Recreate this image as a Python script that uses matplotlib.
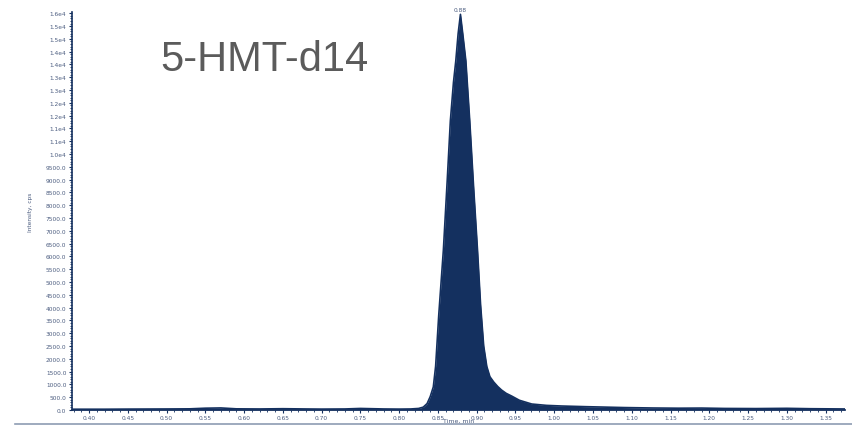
import matplotlib.pyplot as plt
from matplotlib.ticker import MultipleLocator, FixedLocator
from matplotlib.lines import Line2D

# chromatogram (time in min, intensity in cps)
time_min = [0.378, 0.42, 0.45, 0.50, 0.53, 0.55, 0.57, 0.59, 0.62, 0.65, 0.68,
            0.70, 0.73, 0.75, 0.78, 0.80, 0.815, 0.825, 0.831, 0.836, 0.840,
            0.844, 0.847, 0.851, 0.857, 0.862, 0.866, 0.870, 0.873, 0.876,
            0.879, 0.882, 0.886, 0.891, 0.896, 0.901, 0.905, 0.909, 0.913,
            0.917, 0.922, 0.927, 0.932, 0.938, 0.945, 0.955, 0.971, 0.99,
            1.01, 1.04, 1.062, 1.09, 1.127, 1.16, 1.19, 1.22, 1.26, 1.30,
            1.33, 1.375]
intensity = [30, 30, 35, 40, 45, 70, 80, 45, 40, 50, 40,
             35, 40, 60, 40, 35, 40, 60, 110, 250, 520,
             900, 1710, 3700, 6255, 9000, 11300, 12800, 13640, 14700,
             15460, 14700, 13640, 11300, 8700, 6255, 4100, 2500, 1700,
             1300, 1090, 920, 780, 650, 545, 380, 233, 180,
             155, 130, 115, 95, 78, 70, 75, 60, 55, 65,
             50, 40]

ytick_vals = list(range(0, 16000, 500))
ytick_text = ["%.1f" % v for v in ytick_vals[:20]] + [
    "1.0e4", "1.1e4", "1.1e4", "1.2e4", "1.2e4", "1.3e4",
    "1.3e4", "1.4e4", "1.4e4", "1.5e4", "1.5e4", "1.6e4"]
xtick_vals = [0.40 + 0.05 * i for i in range(20)]
xtick_text = ["%.2f" % v for v in xtick_vals]

navy = "#14305f"
tick_col = "#4c5d80"

fig = plt.figure(figsize=(8.52, 4.27), dpi=100)
ax = fig.add_axes([0.0845, 0.0375, 0.9073, 0.932])

ax.fill_between(time_min, intensity, 0, color=navy, lw=0)
ax.plot(time_min, intensity, color=navy, lw=1.2)

ax.set_xlim(0.378, 1.375)
ax.set_ylim(0, 15550)

ax.yaxis.set_major_locator(FixedLocator(ytick_vals))
ax.set_yticklabels(ytick_text)
ax.yaxis.set_minor_locator(MultipleLocator(100))
ax.xaxis.set_major_locator(FixedLocator(xtick_vals))
ax.set_xticklabels(xtick_text)
ax.xaxis.set_minor_locator(MultipleLocator(0.01))

ax.tick_params(axis="both", which="major", labelsize=4.2, length=2.5,
               width=0.8, color=navy, labelcolor=tick_col, pad=1.5)
ax.tick_params(axis="x", which="major", pad=0.8)
ax.tick_params(axis="both", which="minor", length=1.5, width=0.6, color=navy)

for side in ["top", "right"]:
    ax.spines[side].set_visible(False)
for side in ["left", "bottom"]:
    ax.spines[side].set_color(navy)
    ax.spines[side].set_linewidth(1.2)

ax.set_ylabel("Intensity, cps", fontsize=4.2, color=tick_col)
ax.yaxis.set_label_coords(-0.05, 0.5)
ax.set_xlabel("Time, min", fontsize=4.5, color=tick_col)
ax.xaxis.set_label_coords(0.5, -0.02)

ax.annotate("0.88", xy=(0.879, 15460), xytext=(0, 2), textcoords="offset points",
            ha="center", va="bottom", fontsize=4.2, color=tick_col,
            annotation_clip=False)

fig.text(0.188, 0.86, "5-HMT-d14", fontsize=30, color="#5b5b5b",
         family="Liberation Sans", va="center", ha="left")

fig.add_artist(Line2D([0.018, 1.0], [0.005, 0.005], color="#8e9cb3", lw=1.2))

fig.savefig("out.png", dpi=100)
